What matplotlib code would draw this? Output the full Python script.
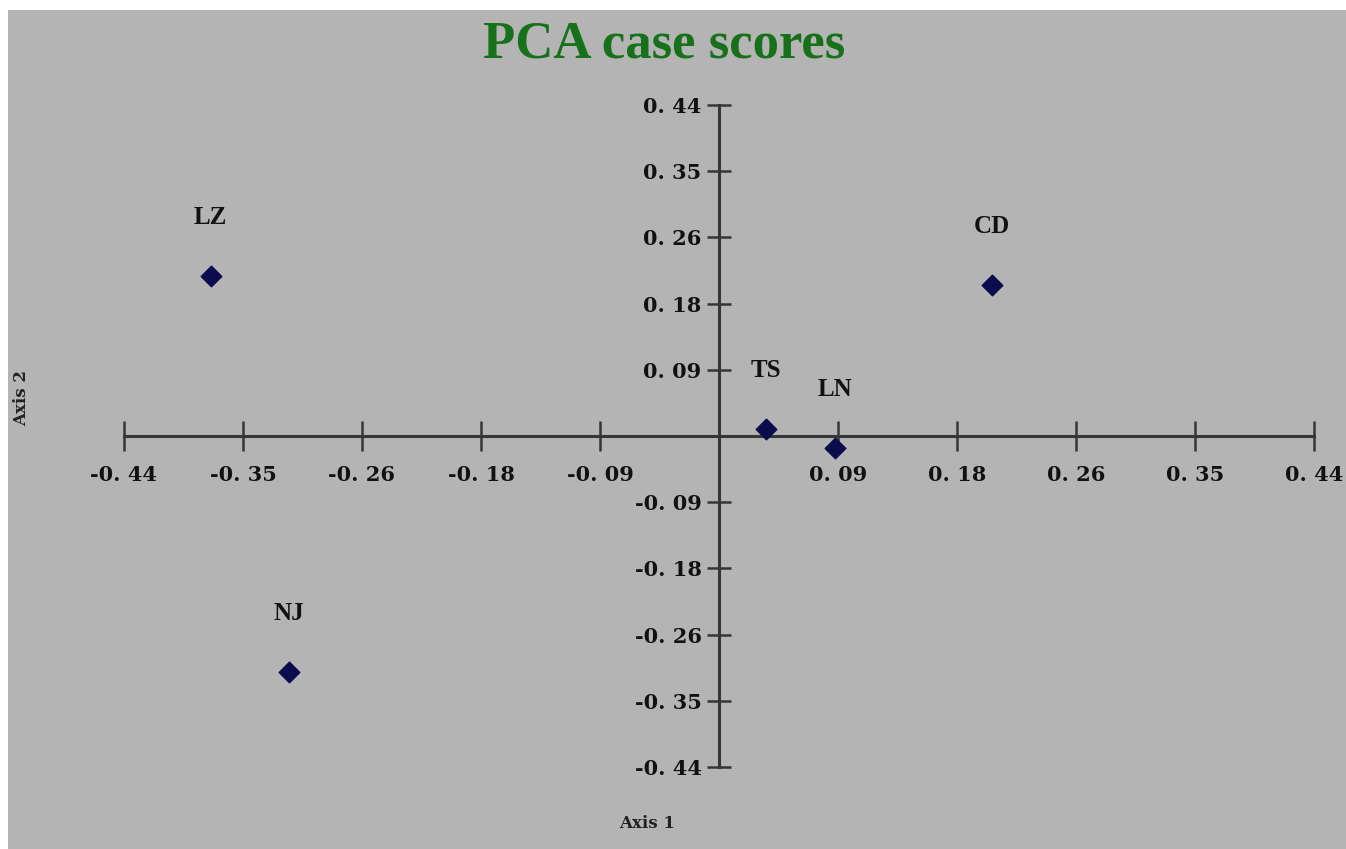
import matplotlib.pyplot as plt
from matplotlib.patches import Rectangle

# case scores
cases = ['LZ', 'CD', 'TS', 'LN', 'NJ']
axis1 = [-0.376, 0.202, 0.035, 0.086, -0.318]
axis2 = [0.213, 0.201, 0.009, -0.016, -0.314]

tick_pos = [-0.44, -0.352, -0.264, -0.176, -0.088, 0.088, 0.176, 0.264, 0.352, 0.44]
tick_labels = ['-0. 44', '-0. 35', '-0. 26', '-0. 18', '-0. 09',
               '0. 09', '0. 18', '0. 26', '0. 35', '0. 44']

W, H, DPI = 1346, 849, 100
bg = '#b4b4b4'

fig = plt.figure(figsize=(W / DPI, H / DPI), dpi=DPI, facecolor='white')
# grey panel, small white margin on top and left
fig.patches.append(Rectangle((8 / W, 0), 1, 1 - 10 / H, transform=fig.transFigure,
                             facecolor=bg, edgecolor='none', zorder=-5))

ax = fig.add_axes([124 / W, 82 / H, 1190 / W, 662 / H])
ax.set_zorder(2)
ax.set_facecolor('none')
ax.set_xlim(-0.44, 0.44)
ax.set_ylim(-0.44, 0.44)

for side in ['top', 'right']:
    ax.spines[side].set_visible(False)
for side in ['left', 'bottom']:
    ax.spines[side].set_position(('data', 0))
    ax.spines[side].set_color('#363636')
    ax.spines[side].set_linewidth(2.2)

serif = ['Liberation Serif', 'DejaVu Serif']
wide = ['DejaVu Serif']
ax.set_xticks(tick_pos)
ax.set_xticklabels(tick_labels, family=wide, fontweight='bold', fontsize=15, color='#111111')
ax.set_yticks(tick_pos)
ax.set_yticklabels(tick_labels, family=wide, fontweight='bold', fontsize=15, color='#111111')
ax.tick_params(axis='x', direction='inout', length=22, width=1.8, color='#363636', pad=10)
ax.tick_params(axis='y', direction='inout', length=17, width=1.8, color='#363636', pad=4)

ax.scatter(axis1, axis2, marker='D', s=110, color='#0b0b4d', zorder=3)
for name, x, y in zip(cases, axis1, axis2):
    ax.annotate(name, (x, y), xytext=(0, 42), textcoords='offset points',
                ha='center', va='center', family=serif, fontweight='bold',
                fontsize=18, color='#111111')

fig.text(664 / W, 1 - 45 / H, 'PCA case scores', ha='center', va='center',
         family=serif, fontweight='bold', fontsize=38, color='#17701a')
fig.text(647 / W, 1 - 824 / H, 'Axis 1', ha='center', va='center',
         family=wide, fontweight='bold', fontsize=12, color='#222222')
fig.text(22 / W, 1 - 398 / H, 'Axis 2', ha='center', va='center', rotation=90,
         family=wide, fontweight='bold', fontsize=12, color='#222222')

fig.savefig('out.png', dpi=DPI, facecolor=fig.get_facecolor())
